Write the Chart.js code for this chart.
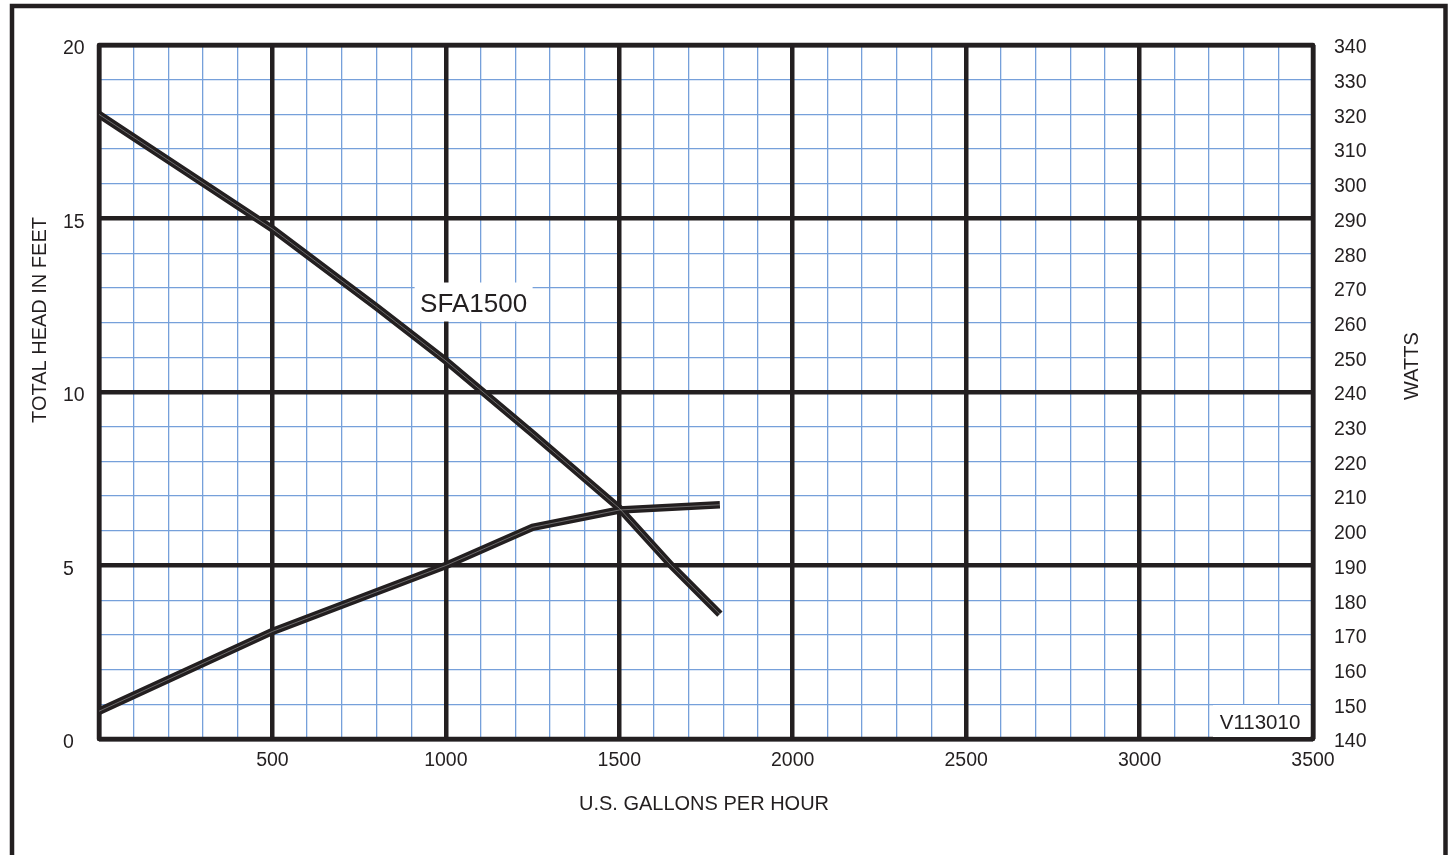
<!DOCTYPE html>
<html>
<head>
<meta charset="utf-8">
<script src="https://cdn.jsdelivr.net/npm/chart.js@4.4.1/dist/chart.umd.min.js"></script>
<style>
html,body{margin:0;padding:0;background:#fff;}
#wrap{width:1449px;height:855px;position:relative;}
</style>
</head>
<body>
<div id="wrap"><canvas id="c" width="1449" height="855"></canvas></div>
<script>
// ---- data ----
const headFlow = [0, 250, 500, 700, 800, 1000, 1250, 1500, 1650, 1790];
const headFeet = [18.0, 16.35, 14.7, 13.2, 12.45, 10.9, 8.8, 6.65, 5.0, 3.6];
const wattFlow = [0, 500, 1000, 1250, 1500, 1790];
const wattValues = [148, 171, 190, 201, 206, 207.5];

const flowRange = [0, 3500];
const headRange = [0, 20];
const wattRange = [140, 340];

const xTitle = 'U.S. GALLONS PER HOUR';
const yTitle = 'TOTAL HEAD IN FEET';
const y2Title = 'WATTS';
const modelLabel = 'SFA1500';
const codeLabel = 'V113010';

// ---- styles ----
const INK = '#231f20';
const BLUE = '#76a0da';
const FONT = "'Liberation Sans', Arial, Helvetica, sans-serif";

const pts = (xs, ys) => xs.map((x, i) => ({x: x, y: ys[i]}));

const decor = {
  id: 'decor',
  beforeDatasetsDraw(chart) {
    const ctx = chart.ctx;
    const a = chart.chartArea;
    ctx.save();
    // plot border
    ctx.strokeStyle = INK;
    ctx.lineWidth = 4.5;
    ctx.lineJoin = 'round';
    ctx.strokeRect(a.left, a.top, a.right - a.left, a.bottom - a.top);

    // model label with white box
    const sx = chart.scales.x, sy = chart.scales.y;
    const mx = sx.getPixelForValue(1080), my = sy.getPixelForValue(12.55);
    ctx.fillStyle = '#fff';
    ctx.fillRect(mx - 59, my - 21, 118, 39);
    ctx.fillStyle = INK;
    ctx.font = '26px ' + FONT;
    ctx.textAlign = 'center';
    ctx.textBaseline = 'middle';
    ctx.fillText(modelLabel, mx, my + 1);

    // code label bottom-right
    ctx.fillStyle = '#fff';
    ctx.fillRect(a.right - 100, a.bottom - 34, 97, 32);
    ctx.fillStyle = INK;
    ctx.font = '20.5px ' + FONT;
    ctx.fillText(codeLabel, a.right - 53, a.bottom - 16);
    ctx.restore();
  },
  afterDraw(chart) {
    const ctx = chart.ctx;
    ctx.save();
    // outer frame
    ctx.strokeStyle = INK;
    ctx.lineWidth = 4.5;
    ctx.strokeRect(12, 6, 1433.5, 900);
    // axis titles
    ctx.fillStyle = INK;
    ctx.font = '20px ' + FONT;
    ctx.textAlign = 'center';
    ctx.textBaseline = 'middle';
    ctx.fillText(xTitle, 704, 804);
    ctx.save();
    ctx.translate(40, 320);
    ctx.rotate(-Math.PI / 2);
    ctx.fillText(yTitle, 0, 0);
    ctx.restore();
    ctx.save();
    ctx.translate(1412, 366);
    ctx.rotate(-Math.PI / 2);
    ctx.fillText(y2Title, 0, 0);
    ctx.restore();
    ctx.restore();
  }
};

const tickFont = {family: FONT, size: 19.5};

new Chart(document.getElementById('c'), {
  type: 'line',
  data: {
    datasets: [
      {label: 'Head core', data: pts(headFlow, headFeet), xAxisID: 'x', yAxisID: 'y',
       borderColor: 'rgba(170,170,170,0.55)', borderWidth: 1, pointRadius: 0, fill: false, tension: 0, order: 0},
      {label: 'Watts core', data: pts(wattFlow, wattValues), xAxisID: 'x', yAxisID: 'y1',
       borderColor: 'rgba(170,170,170,0.55)', borderWidth: 1, pointRadius: 0, fill: false, tension: 0, order: 0},
      {label: 'Head', data: pts(headFlow, headFeet), xAxisID: 'x', yAxisID: 'y',
       borderColor: INK, borderWidth: 7.5, pointRadius: 0, fill: false, tension: 0, order: 1},
      {label: 'Watts', data: pts(wattFlow, wattValues), xAxisID: 'x', yAxisID: 'y1',
       borderColor: INK, borderWidth: 7.5, pointRadius: 0, fill: false, tension: 0, order: 1}
    ]
  },
  options: {
    responsive: false,
    animation: false,
    events: [],
    layout: {padding: {left: 63, top: 45, right: 0, bottom: 0}},
    plugins: {legend: {display: false}, tooltip: {enabled: false}},
    scales: {
      x: {
        type: 'linear', position: 'bottom', min: flowRange[0], max: flowRange[1],
        ticks: {display: false, stepSize: 100},
        grid: {color: BLUE, lineWidth: 1.3, drawTicks: false},
        border: {display: false},
        afterFit: s => { s.height = 0; }
      },
      y: {
        type: 'linear', position: 'left', min: headRange[0], max: headRange[1],
        ticks: {display: false, stepSize: 1},
        grid: {color: BLUE, lineWidth: 1.3, drawTicks: false},
        border: {display: false},
        afterFit: s => { s.width = 0; }
      },
      xMajor: {
        type: 'linear', position: 'bottom', min: flowRange[0], max: flowRange[1],
        ticks: {stepSize: 500, autoSkip: false, maxRotation: 0, padding: 10, color: INK, font: tickFont,
                callback: v => (v === 0 ? '' : String(v))},
        grid: {color: INK, lineWidth: 4.5, drawTicks: false, z: -0.5},
        border: {display: false},
        afterFit: s => { s.height = 116; }
      },
      yMajor: {
        type: 'linear', position: 'left', min: headRange[0], max: headRange[1],
        ticks: {stepSize: 5, autoSkip: false, padding: 0, crossAlign: 'far', labelOffset: 4, color: INK, font: tickFont,
                callback: v => String(v)},
        grid: {color: INK, lineWidth: 4.5, drawTicks: false, z: -0.5},
        border: {display: false},
        afterFit: s => { s.width = 36; }
      },
      y1: {
        type: 'linear', position: 'right', min: wattRange[0], max: wattRange[1],
        ticks: {stepSize: 10, autoSkip: false, padding: 21, labelOffset: 3, color: INK, font: tickFont,
                callback: v => String(v)},
        grid: {display: false, drawTicks: false},
        border: {display: false},
        afterFit: s => { s.width = 136; }
      }
    }
  },
  plugins: [decor]
});
</script>
</body>
</html>
